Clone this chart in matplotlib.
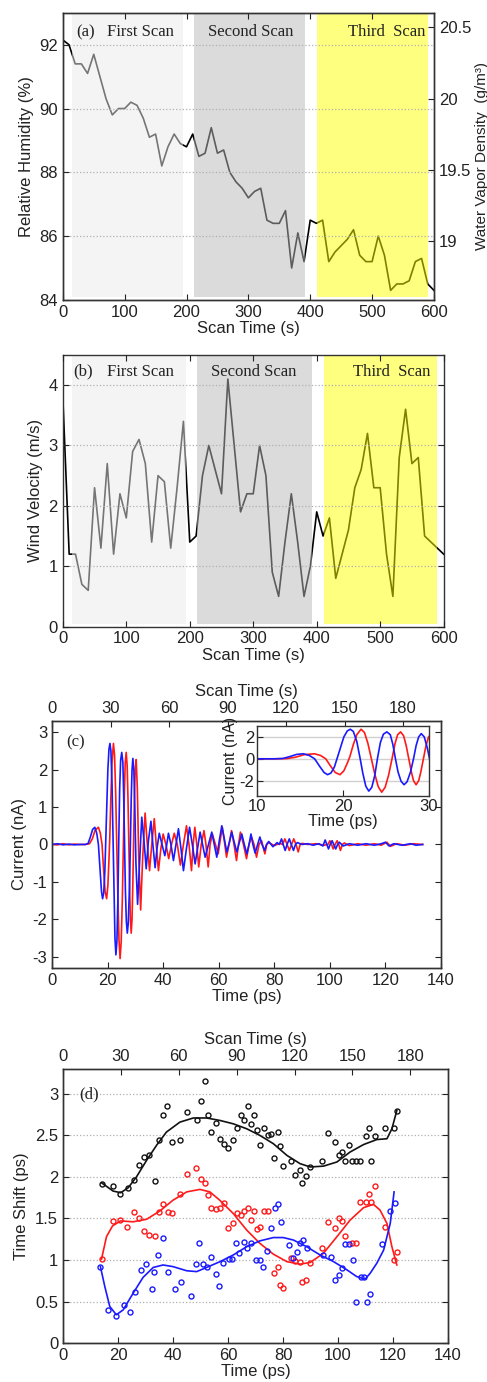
import matplotlib
matplotlib.use('Agg')
import matplotlib.pyplot as plt

plt.rcParams['font.family'] = ['Liberation Sans', 'DejaVu Sans']
plt.rcParams['axes.unicode_minus'] = False
plt.rcParams['xtick.direction'] = 'in'
plt.rcParams['ytick.direction'] = 'in'
plt.rcParams['text.color'] = '#222222'
plt.rcParams['xtick.color'] = '#222222'
plt.rcParams['ytick.color'] = '#222222'
plt.rcParams['axes.labelcolor'] = '#222222'

# ---------------- data ----------------
# (a) and (b): weather record, one sample every 10 s
scan_time_ab = list(range(0, 601, 10))
humidity = [92.15, 92.0, 91.4, 91.4, 91.1, 91.7, 91.0, 90.3, 89.8, 90.0,
            90.0, 90.2, 90.1, 89.7, 89.1, 89.2, 88.2, 88.8, 89.2, 88.9,
            88.8, 89.2, 88.5, 88.6, 89.4, 88.6, 88.7, 88.0, 87.7, 87.5,
            87.2, 87.4, 87.5, 86.5, 86.4, 86.4, 86.8, 85.0, 86.1, 85.2,
            86.5, 86.4, 86.5, 85.2, 85.5, 85.7, 85.9, 86.2, 85.4, 85.2,
            85.2, 86.0, 85.4, 84.3, 84.5, 84.5, 84.6, 85.2, 85.3, 84.5,
            84.3]
wind_velocity = [3.8, 1.2, 1.2, 0.7, 0.6, 2.3, 1.3, 2.7, 1.2, 2.2,
                 1.8, 2.9, 3.1, 2.7, 1.4, 2.5, 2.4, 1.3, 2.3, 3.4,
                 1.4, 1.5, 2.5, 3.0, 2.6, 2.2, 4.1, 3.0, 1.9, 2.2,
                 2.2, 3.0, 2.5, 0.9, 0.5, 1.4, 2.2, 1.4, 0.5, 1.0,
                 1.9, 1.5, 1.8, 0.8, 1.2, 1.6, 2.3, 2.6, 3.2, 2.3,
                 2.3, 1.2, 0.5, 2.8, 3.6, 2.7, 2.8, 1.5, 1.4, 1.3,
                 1.2]

scan_names = ['First Scan', 'Second Scan', 'Third  Scan']
scan_start = [15, 212, 411]
scan_end = [194, 392, 590]
scan_colors = ['#ebebeb', '#b8b8b8', '#ffff00']

# (c): THz current waveforms
blue_time = [0, 2, 4, 6, 8, 10, 12, 13, 13.8, 14.6, 15.4, 16.1, 16.7, 17.3, 17.8, 18.2, 18.6, 19.0, 19.3,
             19.7, 20.1, 20.5, 20.85, 21.2, 21.6, 22.0, 22.3, 22.65, 23.0, 23.35, 23.7, 24.0, 24.35,
             24.7, 25.1, 25.5, 25.8, 26.1, 26.4, 26.75, 27.1, 27.45, 27.85, 28.2, 28.5, 28.8, 29.1,
             29.45, 29.8, 30.2, 30.8, 31.5, 32.3, 33.1, 33.9, 34.7, 35.6, 36.3, 37.1, 37.8, 38.6,
             39.6, 40.6, 41.3, 41.9, 42.8, 43.7, 44.6, 45.5, 46.4, 47.3, 48.4, 49.5, 50.5, 51.5,
             52.4, 53.3, 54.2, 55.1, 56.3, 57.5, 58.4, 59.3, 60.2, 61.1, 62.0, 62.9, 63.8, 64.7,
             65.6, 66.5, 67.4, 68.3, 69.2, 70.1, 70.9, 71.6, 72.3, 73.1, 74.0, 74.8, 75.6, 76.5,
             77.2, 78.0, 79.5, 81.0, 81.8, 82.6, 83.2, 83.9, 84.6, 85.4, 86.1, 86.9, 87.6, 88.3,
             90, 92, 94, 96, 97.5, 98.3, 98.9, 99.5, 100.1, 100.8, 101.4, 102.1, 102.8, 103.4,
             104.8, 107, 110, 113, 116, 118.5, 120.0, 121.3, 123, 126, 129, 131, 133.4]
blue_current = [0, 0.02, -0.01, 0.01, -0.01, 0, 0, 0.03, 0.2, 0.4, 0.46, 0.3, 0, -0.7, -1.25, -1.45, -1.3, -0.75, 0,
                1.0, 2.0, 2.55, 2.7, 2.5, 1.6, 0, -1.3, -2.5, -2.95, -2.6, -1.5, 0, 1.5,
                2.25, 2.46, 2.2, 1.3, 0, -1.2, -2.05, -2.37, -2.1, -1.2, 0, 1.2, 2.0, 2.3,
                2.0, 1.0, -0.5, -1.6, -0.5, 0.73, 0.1, -0.65, 0.1, 0.62, 0.0, -0.62, -0.1, 0.3,
                0.0, -0.3, 0.0, 0.3, 0.0, -0.43, 0.0, 0.42, -0.1, -0.7, -0.1, 0.46, 0.0, -0.52,
                -0.1, 0.33, 0.0, -0.34, 0.0, 0.33, 0.0, -0.34, 0.1, 0.5, 0.15, -0.2, 0.05, 0.33,
                0.05, -0.2, 0.05, 0.28, 0.0, -0.25, 0.0, 0.28, 0.0, -0.23, 0.0, 0.2, 0.0, -0.16,
                0.0, 0.08, -0.06, 0.05, 0.0, 0.15, 0.0, -0.16, 0.0, 0.15, 0.0, -0.16, 0.0, 0.05,
                0, 0.02, -0.02, 0.02, -0.04, 0.12, 0.0, -0.12, 0.0, 0.1, 0.0, -0.12, 0.0, 0.06,
                -0.04, 0.02, -0.02, 0.02, -0.02, 0.02, 0.06, -0.04, 0.02, -0.02, 0.02, -0.02, 0.0]

red_time = [0, 2, 4, 6, 8, 10, 12, 13.5, 14.5, 15.5, 16.7, 17.4, 18.0, 18.5, 19.1, 19.65, 20.1, 20.5, 20.8,
            21.2, 21.6, 22.1, 22.5, 22.9, 23.3, 23.7, 24.1, 24.5, 24.9, 25.3, 25.7, 26.05, 26.35,
            26.7, 27.05, 27.35, 27.65, 27.95, 28.2, 28.5, 28.8, 29.05, 29.35, 29.65, 29.95, 30.3,
            30.7, 31.2, 31.9, 32.6, 33.5, 34.2, 35.1, 35.9, 36.8, 37.5, 38.3, 39.2, 40.0, 41.0,
            42.0, 43.0, 44.0, 45.1, 46.2, 47.3, 48.4, 49.3, 50.2, 50.8, 51.4, 52.1, 52.8, 53.7,
            54.7, 55.4, 56.2, 56.9, 57.7, 58.8, 59.8, 60.5, 61.3, 62.0, 62.8, 63.7, 64.6, 65.5,
            66.4, 67.1, 67.8, 68.9, 70.0, 70.9, 71.8, 72.7, 73.6, 74.5, 75.4, 76.6, 77.3, 78.0,
            80, 82, 83.0, 83.8, 84.6, 85.4, 86.2, 87.0, 87.8, 88.6, 89.3, 90.0, 92, 95, 98, 99.3,
            100.0, 100.6, 101.2, 101.9, 102.6, 103.2, 103.8, 104.5, 105.2, 107, 110, 113, 116,
            118.5, 120.5, 121.8, 124, 127, 130, 133.4]
red_current = [0, -0.01, 0.02, -0.01, 0.01, 0, 0, 0.02, 0.15, 0.38, 0.46, 0.3, 0, -0.6, -1.25, -1.45, -1.1, -0.4, 0.2,
               1.3, 2.2, 2.7, 2.4, 1.4, 0, -1.4, -2.55, -3.05, -2.6, -1.5, 0, 1.4, 2.2,
               2.46, 2.1, 1.2, 0, -1.2, -2.0, -2.37, -2.0, -1.2, 0, 1.2, 2.0, 2.27,
               1.5, -0.3, -1.75, -0.4, 0.84, 0.1, -0.7, 0.0, 0.69, 0.0, -0.7, -0.1, 0.28, 0.0,
               -0.38, 0.0, 0.3, 0.0, -0.55, 0.0, 0.5, 0.0, -0.7, 0.0, 0.46, 0.0, -0.6, 0.0,
               0.37, 0.0, -0.6, 0.0, 0.28, 0.0, -0.25, 0.1, 0.46, 0.1, -0.34, 0.0, 0.37, 0.0,
               -0.43, 0.0, 0.33, 0.0, -0.38, 0.0, 0.2, 0.0, -0.34, 0.0, 0.1, -0.25, 0.0, 0.05,
               -0.03, 0.03, 0.0, 0.15, 0.0, -0.16, 0.0, 0.15, 0.0, -0.2, 0.0, 0.03, 0, 0.02, -0.02, 0.0,
               0.1, 0.0, -0.12, 0.0, 0.1, 0.0, -0.16, 0.0, 0.04, -0.03, 0.02, -0.02, 0.02,
               -0.02, 0.06, -0.05, 0.02, -0.02, 0.02, 0]

# (d): time shift measurements and fitted curves
black_t = [14.0, 18.2, 20.9, 23.7, 25.9, 27.7, 29.5, 31.3, 33.4, 35.0, 36.2, 37.8, 39.5, 42.5, 45.0,
           48.6, 50.1, 51.5, 52.7, 53.9, 55.5, 57.1, 58.5, 59.9, 61.7, 63.4, 64.7, 65.7, 67.3, 68.5,
           69.5, 70.4, 71.6, 73.2, 74.4, 75.5, 76.7, 78.1, 78.9, 79.9, 82.9, 84.4, 86.0, 86.9, 88.4,
           89.9, 94.1, 96.2, 99.0, 100.2, 101.4, 102.6, 104.1, 105.0, 106.5, 107.9, 110.1, 111.2,
           111.9, 113.6, 117.2, 120.2, 121.4]
black_shift = [1.92, 1.89, 1.80, 1.87, 1.96, 2.14, 2.24, 2.26, 1.95, 2.45, 2.74, 2.85, 2.42, 2.45, 2.78,
               2.68, 2.91, 3.15, 2.74, 2.54, 2.65, 2.46, 2.40, 2.35, 2.45, 2.59, 2.75, 2.69, 2.86, 2.64,
               2.75, 2.56, 2.39, 2.59, 2.50, 2.52, 2.23, 2.54, 2.37, 2.13, 2.19, 2.02, 2.08, 1.93, 2.01,
               2.12, 2.19, 2.53, 2.42, 2.26, 2.30, 2.19, 2.39, 2.19, 2.19, 2.19, 2.49, 2.59,
               2.19, 2.49, 2.59, 2.59, 2.79]
red_t = [14.3, 18.0, 20.9, 23.4, 25.9, 27.7, 29.5, 31.3, 33.4, 35.0, 36.2, 38.0, 39.5, 42.5, 45.0,
         48.3, 50.1, 51.5, 52.6, 53.9, 55.5, 57.1, 58.5, 59.9, 61.7, 63.4, 64.7, 65.7, 67.3, 68.5,
         69.5, 70.4, 71.6, 73.2, 74.4, 76.7, 78.1, 78.9, 79.9, 82.9, 84.4, 86.0, 86.9, 88.4, 89.9,
         94.1, 96.2, 99.0, 100.2, 101.4, 102.6, 105.0, 106.5, 107.9, 110.1, 111.2, 111.9, 113.6,
         117.2, 120.2, 121.4]
red_shift = [1.01, 1.47, 1.48, 1.40, 1.58, 1.51, 1.35, 1.30, 1.29, 1.58, 1.67, 1.58, 1.56, 1.79, 2.03,
             2.11, 1.97, 1.93, 1.78, 1.63, 1.61, 1.63, 1.69, 1.38, 1.44, 1.56, 1.54, 1.59, 1.63, 1.48,
             1.59, 1.37, 1.40, 1.59, 1.59, 0.84, 0.91, 0.70, 0.66, 1.02, 0.99, 0.98, 0.73, 0.76, 0.96,
             1.14, 1.46, 1.39, 1.51, 1.47, 1.29, 1.20, 1.20, 1.70, 1.70, 1.79, 1.70, 1.89,
             1.40, 1.00, 1.10]
blue_t = [13.6, 16.4, 19.4, 22.2, 24.3, 26.1, 28.2, 30.1, 32.2, 33.0, 34.4, 36.2, 38.0, 40.6, 42.9,
          46.4, 48.2, 49.5, 51.0, 52.2, 53.9, 55.5, 56.8, 58.3, 60.2, 61.6, 63.0, 64.1, 65.7, 67.0,
          68.5, 70.1, 71.6, 72.9, 74.2, 75.8, 77.1, 78.1, 79.3, 82.1, 83.5, 85.0, 86.2, 87.4, 88.9,
          94.7, 97.4, 99.0, 100.3, 101.4, 102.6, 104.1, 105.4, 106.5, 108.3, 109.6, 110.5, 111.5,
          116.0, 119.0, 120.6]
blue_shift = [0.91, 0.40, 0.32, 0.46, 0.37, 0.62, 0.88, 0.95, 0.65, 0.85, 1.06, 1.27, 0.85, 0.65, 0.74,
              0.57, 0.95, 1.21, 0.95, 0.91, 1.04, 0.83, 0.69, 0.96, 1.01, 1.01, 1.21, 1.09, 1.22, 1.15,
              1.20, 1.00, 1.00, 0.91, 1.11, 1.39, 1.62, 1.67, 1.46, 1.18, 1.02, 1.10, 1.20, 1.24, 1.15,
              1.06, 1.03, 0.76, 0.82, 0.90, 1.19, 1.19, 1.00, 0.49, 0.79, 0.79, 0.49, 0.59,
              1.19, 1.59, 1.69]

black_fit_t = [14, 18.2, 21, 23.7, 26.7, 30.4, 34, 37.6, 42.5, 47.4, 52.2, 57.1, 61.9, 66.8, 71.6,
               76.5, 81.4, 86.2, 89.9, 94.7, 99.6, 104.4, 109.3, 114.1, 117.8, 119.6, 121.4]
black_fit = [1.93, 1.83, 1.81, 1.87, 2.0, 2.2, 2.38, 2.54, 2.66, 2.71, 2.71, 2.68, 2.64, 2.58, 2.5,
             2.4, 2.26, 2.16, 2.12, 2.13, 2.18, 2.3, 2.39, 2.45, 2.46, 2.58, 2.8]
red_fit_t = [14, 15.8, 18, 20.9, 25.5, 30.4, 35.2, 40, 45, 49.8, 53.4, 57, 61.9, 66.8, 71.6, 76.5,
             81.4, 86.2, 89.9, 94.7, 99.6, 104.4, 109.3, 112.9, 115.3, 117.8, 119.6, 121.4]
red_fit = [1.01, 1.28, 1.41, 1.47, 1.46, 1.49, 1.59, 1.72, 1.82, 1.85, 1.82, 1.72, 1.56, 1.36, 1.2, 1.07,
           0.98, 0.95, 0.97, 1.08, 1.28, 1.48, 1.63, 1.67, 1.6, 1.44, 1.16, 0.94]
blue_fit_t = [13.6, 15.2, 17, 19.4, 21.9, 25.5, 29.1, 32.8, 36.4, 40, 45, 48.6, 52.2, 57.1, 61.9, 66.8,
              71.6, 76.5, 80.1, 83.8, 88.6, 93.5, 98.4, 103.3, 106.8, 109.9, 111.7, 114.1, 116.6, 119,
              120.4]
blue_fit = [0.92, 0.68, 0.44, 0.34, 0.4, 0.6, 0.79, 0.91, 0.94, 0.92, 0.87, 0.86, 0.91, 0.98, 1.06, 1.16,
            1.23, 1.27, 1.27, 1.24, 1.16, 1.06, 0.98, 0.88, 0.8, 0.77, 0.84, 0.96, 1.12, 1.44, 1.82]

serif = ['Liberation Serif', 'DejaVu Serif']

fig = plt.figure(figsize=(4.87, 13.82), dpi=100)


def style_axes(ax):
    ax.tick_params(labelsize=12, length=4, width=0.8)
    for s in ax.spines.values():
        s.set_color('#333333')
        s.set_linewidth(1.0)


def draw_scan_panel(ax, values, ylim, yticks, tag, tag_pos, text_y, text_x):
    ax.plot(scan_time_ab, values, color='black', lw=1.2, zorder=2)
    # shaded scan windows sit on top of the line, so it looks grey inside them
    for s, e, c in zip(scan_start, scan_end, scan_colors):
        ax.axvspan(s, e, ymin=0.01, ymax=1, color=c, alpha=0.5, lw=0, zorder=2.2)
    ax.set_xlim(0, 600)
    ax.set_ylim(*ylim)
    ax.set_xticks(range(0, 601, 100))
    ax.set_yticks(yticks)
    ax.set_axisbelow(False)
    ax.grid(True, axis='y', linestyle=':', color='#b0b0b0', lw=0.9)
    ax.tick_params(top=True)
    ax.set_xlabel('Scan Time (s)', fontsize=12, labelpad=1)
    ax.text(tag_pos, text_y, tag, family=serif, fontsize=12, va='center', zorder=5)
    for name, x in zip(scan_names, text_x):
        ax.text(x, text_y, name, family=serif, fontsize=12, va='center', zorder=5)
    style_axes(ax)


# ---------------- (a) humidity ----------------
ax_a = fig.add_axes([0.129, 0.783, 0.762, 0.2077])
draw_scan_panel(ax_a, humidity, (84, 93), [84, 86, 88, 90, 92], '(a)', 22, 92.4, [71, 234, 461])
ax_a.set_ylabel('Relative Humidity (%)', fontsize=12)
ax_a2 = ax_a.twinx()
ax_a2.set_ylim(18.59, 20.60)
ax_a2.set_yticks([19, 19.5, 20, 20.5])
ax_a2.set_yticklabels(['19', '19.5', '20', '20.5'])
ax_a2.set_ylabel('Water Vapor Density  (g/m³)', fontsize=11, labelpad=3)
style_axes(ax_a2)

# ---------------- (b) wind ----------------
ax_b = fig.add_axes([0.129, 0.5466, 0.782, 0.1966])
draw_scan_panel(ax_b, wind_velocity, (0, 4.5), [0, 1, 2, 3, 4], '(b)', 17, 4.22, [69, 233, 457])
ax_b.tick_params(right=True)
ax_b.set_ylabel('Wind Velocity (m/s)', fontsize=12)

# ---------------- (c) current ----------------
ax_c = fig.add_axes([0.1068, 0.2996, 0.7988, 0.1787])
ax_c.plot(red_time, red_current, color='#ff1a1a', lw=1.2)
ax_c.plot(blue_time, blue_current, color='#1a1aff', lw=1.2)
ax_c.set_xlim(0, 140)
ax_c.set_ylim(-3.3, 3.3)
ax_c.set_xticks(range(0, 141, 20))
ax_c.set_yticks([-3, -2, -1, 0, 1, 2, 3])
ax_c.tick_params(right=True)
ax_c.set_xlabel('Time (ps)', fontsize=12, labelpad=1)
ax_c.set_ylabel('Current (nA)', fontsize=12)
ax_c.text(5, 2.73, '(c)', family=serif, fontsize=12, va='center')
style_axes(ax_c)
ax_c_top = ax_c.twiny()
ax_c_top.set_xlim(0, 199.5)
ax_c_top.set_xticks(range(0, 181, 30))
ax_c_top.set_xlabel('Scan Time (s)', fontsize=12, labelpad=4)
style_axes(ax_c_top)

# inset: zoom on the main pulse
ax_in = fig.add_axes([0.5277, 0.424, 0.3532, 0.0507])
ax_in.plot(red_time, red_current, color='#ff1a1a', lw=1.2)
ax_in.plot(blue_time, blue_current, color='#1a1aff', lw=1.2)
ax_in.set_xlim(10, 30)
ax_in.set_ylim(-3.4, 3.0)
ax_in.set_xticks([10, 20, 30])
ax_in.set_yticks([-2, 0, 2])
ax_in.grid(True, axis='y', color='#d0d0d0', lw=1.0)
ax_in.set_axisbelow(True)
ax_in.set_xlabel('Time (ps)', fontsize=12, labelpad=0)
ax_in.set_ylabel('Current (nA)', fontsize=11.5, labelpad=1)
style_axes(ax_in)
ax_in.tick_params(pad=2)

# ---------------- (d) time shift ----------------
ax_d = fig.add_axes([0.1294, 0.0282, 0.7905, 0.1983])
for t, v, ft, fv, c in [(black_t, black_shift, black_fit_t, black_fit, '#111111'),
                        (red_t, red_shift, red_fit_t, red_fit, '#ff1a1a'),
                        (blue_t, blue_shift, blue_fit_t, blue_fit, '#1a1aff')]:
    ax_d.plot(t, v, 'o', mfc='none', mec=c, ms=3.6, mew=1.0)
    ax_d.plot(ft, fv, color=c, lw=1.2)
ax_d.set_xlim(0, 140)
ax_d.set_ylim(0, 3.3)
ax_d.set_xticks(range(0, 141, 20))
ax_d.set_yticks([0, 0.5, 1, 1.5, 2, 2.5, 3])
ax_d.set_yticklabels(['0', '0.5', '1', '1.5', '2', '2.5', '3'])
ax_d.grid(True, axis='y', linestyle=':', color='#b0b0b0', lw=0.9)
ax_d.set_axisbelow(True)
ax_d.tick_params(right=True)
ax_d.set_xlabel('Time (ps)', fontsize=12, labelpad=1)
ax_d.set_ylabel('Time Shift (ps)', fontsize=12)
ax_d.text(6, 3.0, '(d)', family=serif, fontsize=12, va='center')
style_axes(ax_d)
ax_d_top = ax_d.twiny()
ax_d_top.set_xlim(0, 199.5)
ax_d_top.set_xticks(range(0, 181, 30))
ax_d_top.set_xlabel('Scan Time (s)', fontsize=12, labelpad=4)
style_axes(ax_d_top)

fig.savefig('out.png', dpi=100)
